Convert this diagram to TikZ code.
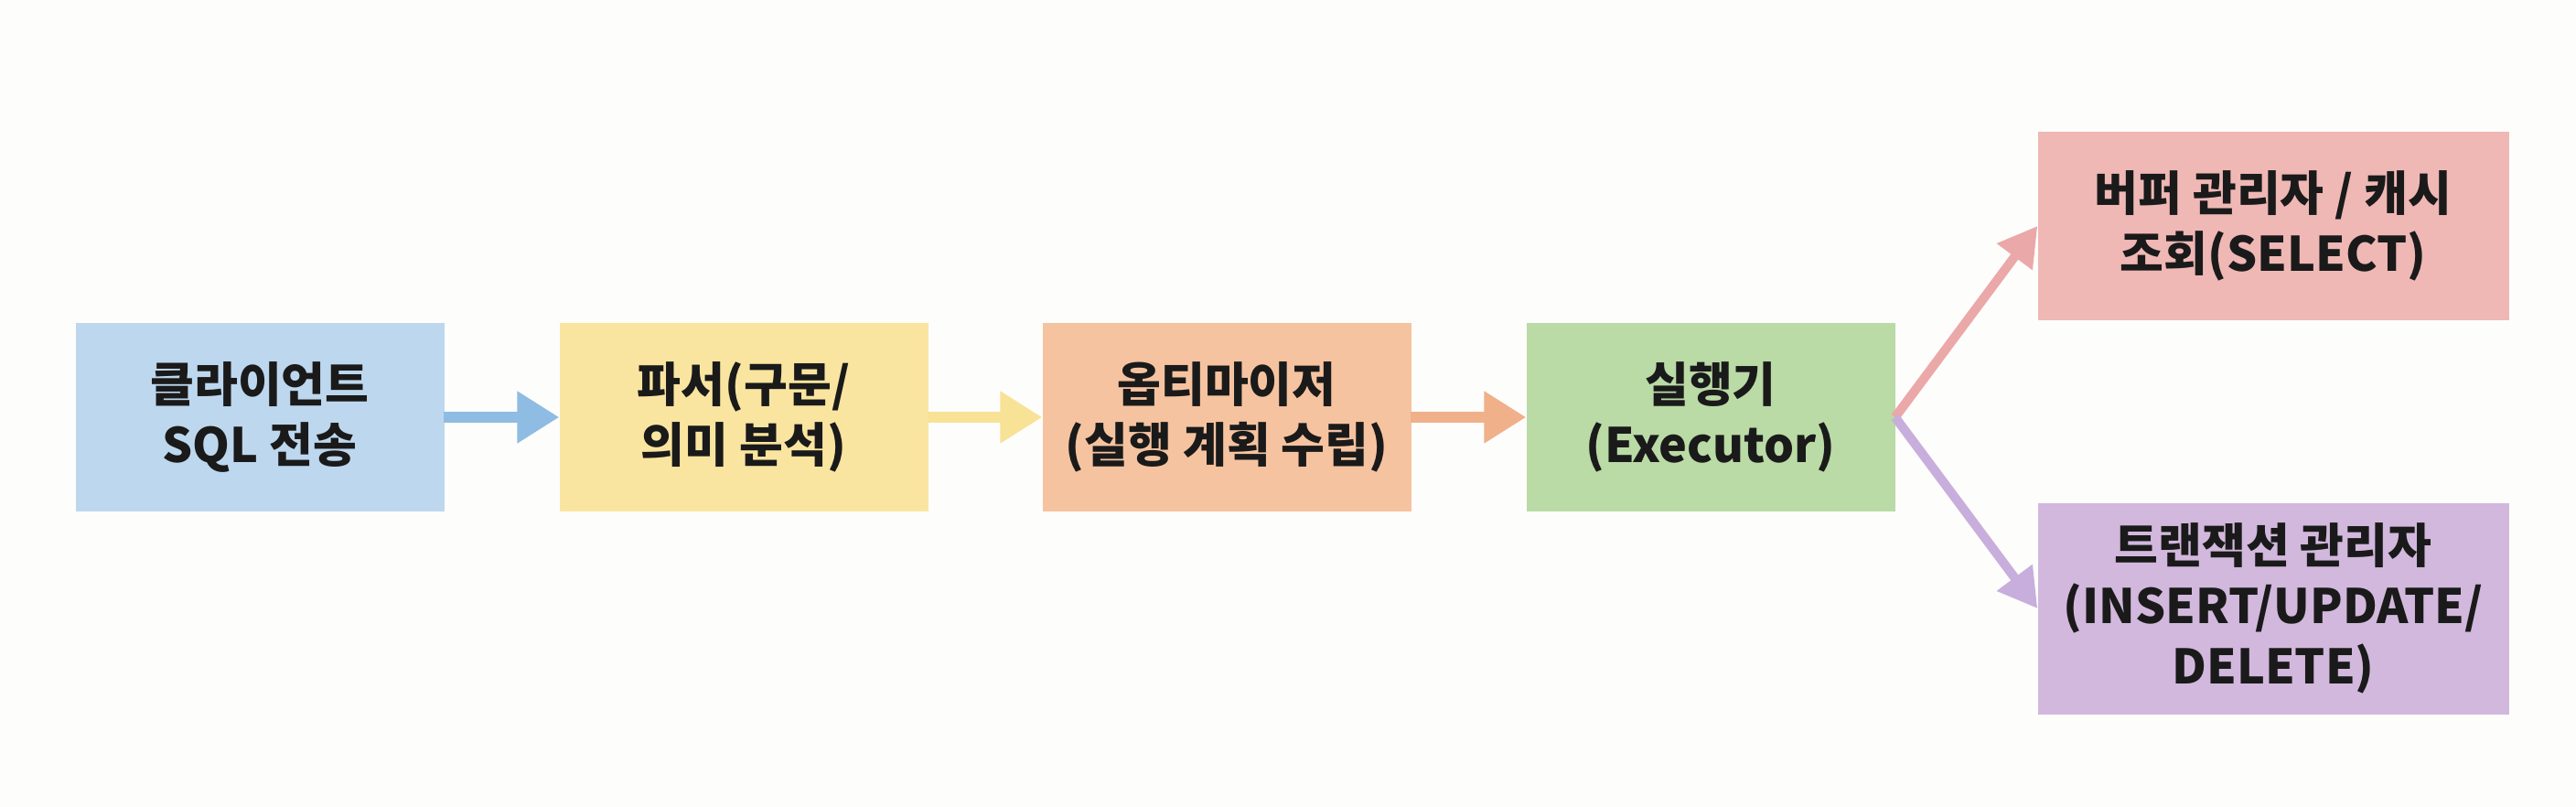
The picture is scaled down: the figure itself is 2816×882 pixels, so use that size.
\documentclass[tikz,border=0pt]{standalone}
\usepackage{fontspec}
\setmainfont{Noto Sans CJK KR}
\usetikzlibrary{arrows.meta}
\definecolor{bgc}{HTML}{FDFDFB}
\definecolor{cblue}{HTML}{BDD7EE}
\definecolor{cyel}{HTML}{FAE5A0}
\definecolor{corg}{HTML}{F6C3A0}
\definecolor{cgrn}{HTML}{BADAA6}
\definecolor{cpink}{HTML}{EFB8B5}
\definecolor{cpur}{HTML}{D2B8DD}
\definecolor{ablue}{HTML}{8FBCE2}
\definecolor{ayel}{HTML}{F8E296}
\definecolor{aorg}{HTML}{F0B08A}
\definecolor{apink}{HTML}{EBA8A8}
\definecolor{apur}{HTML}{C8AEDC}
\definecolor{txt}{HTML}{1A1A1A}
\tikzset{
  box/.style={draw=none, minimum width=403pt, minimum height=205pt, align=center, inner sep=0pt,
    text=txt, font=\fontsize{52}{66}\selectfont\bfseries},
  flow/.style={line width=12pt, -{Triangle[length=46pt,width=54pt]}, shorten <=-1pt},
  fork/.style={line width=10pt, -{Triangle[length=42pt,width=46pt]}},
}
\begin{document}
\begin{tikzpicture}[x=1pt,y=-1pt]
\fill[bgc] (0,0) rectangle (2816,882);
\useasboundingbox (0,0) rectangle (2816,882);
\node[box, fill=cblue] (cli) at (284,456) {클라이언트\\SQL 전송};
\node[box, fill=cyel] (par) at (813,456) {파서(구문/\\의미 분석)};
\node[box, fill=corg] (opt) at (1341,456) {옵티마이저\\(실행 계획 수립)};
\node[box, fill=cgrn] (exe) at (1870,456) {실행기\\(Executor)};
\node[box, fill=cpink, minimum width=515pt, minimum height=206pt] (buf) at (2485,247) {버퍼 관리자 / 캐시\\조회(SELECT)};
\node[box, fill=cpur, minimum width=515pt, minimum height=231pt] (trx) at (2485,665) {트랜잭션 관리자\\(INSERT/UPDATE/\\DELETE)};
\draw[flow, ablue] (cli.east) -- (par.west);
\draw[flow, ayel] (par.east) -- (opt.west);
\draw[flow, aorg] (opt.east) -- (exe.west);
\draw[fork, apink] (exe.east) -- (buf.west);
\draw[fork, apur] (exe.east) -- (trx.west);
\end{tikzpicture}
\end{document}
